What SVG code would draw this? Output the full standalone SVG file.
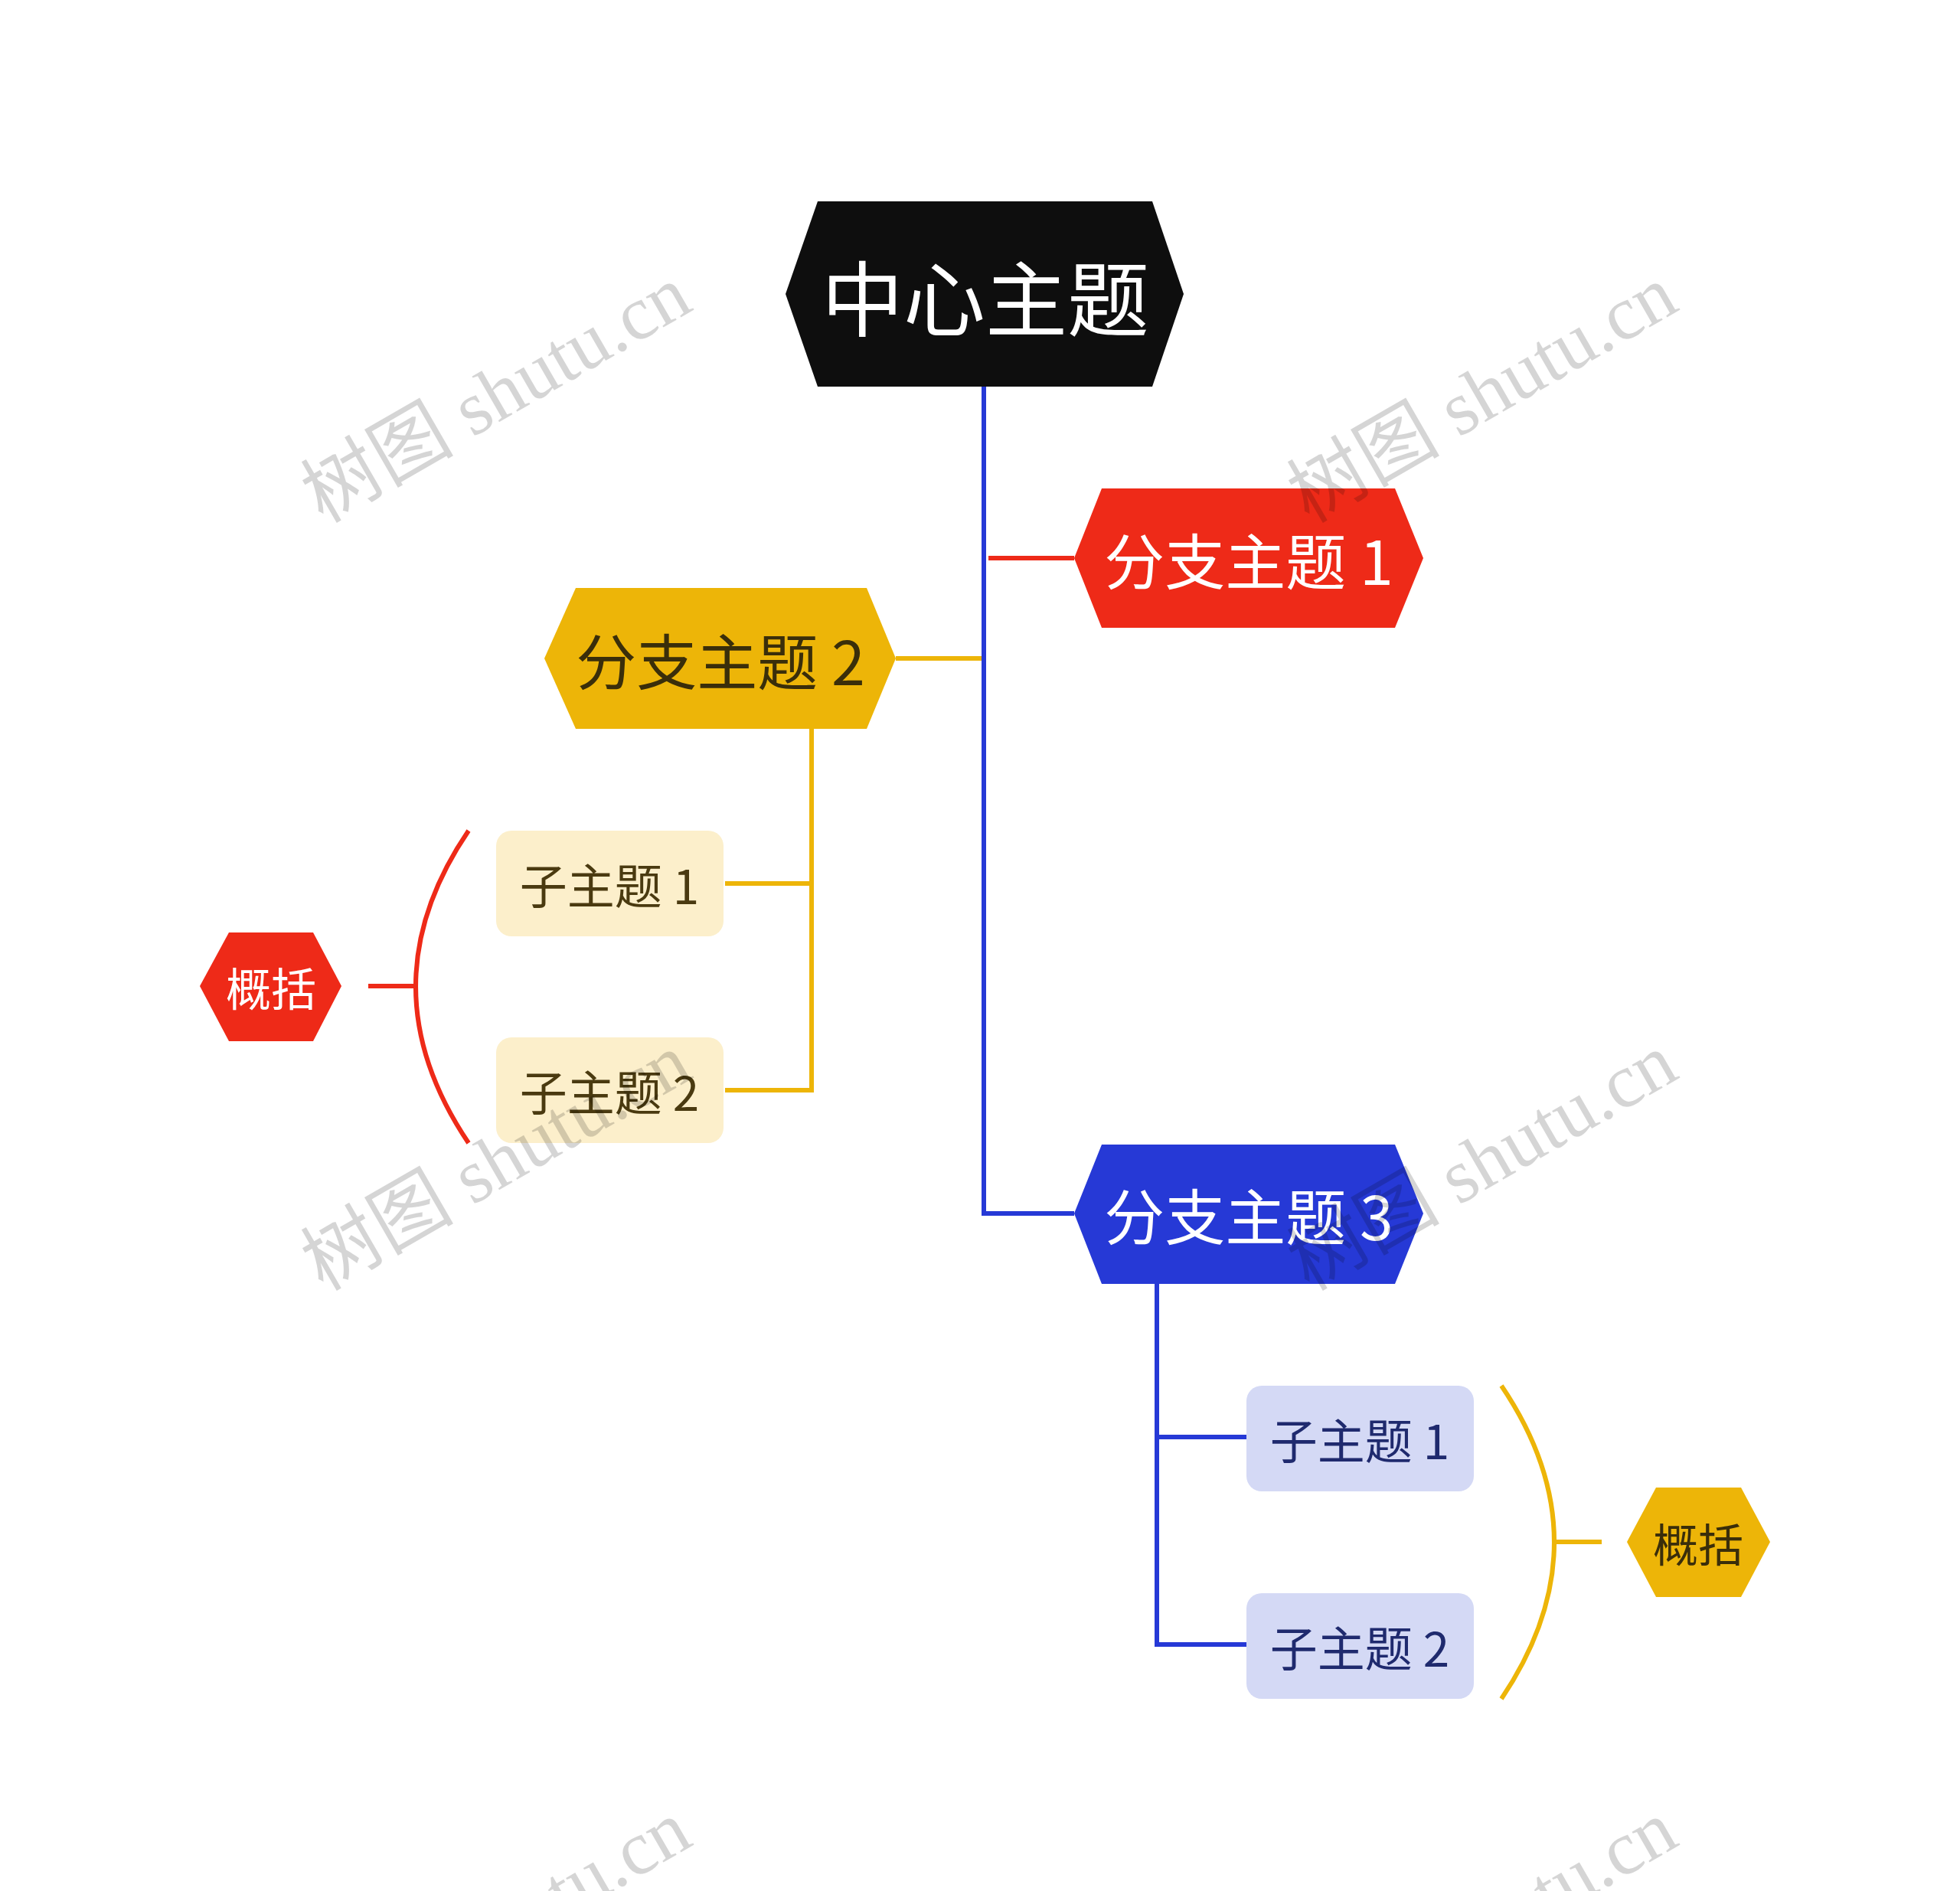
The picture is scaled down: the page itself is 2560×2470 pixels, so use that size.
<svg xmlns="http://www.w3.org/2000/svg" width="2560" height="2470" viewBox="0 0 2560 2470">
<style>
text{font-family:"Noto Sans CJK SC","Noto Sans",sans-serif;text-anchor:middle;dominant-baseline:central}
.wm{font-family:"Liberation Serif","Noto Sans CJK SC",serif;font-size:100px;fill:#000;opacity:0.16}
.ln{fill:none;stroke-width:6}
</style>
<rect width="2560" height="2470" fill="#fff"/>
<g id="connectors">
<path class="ln" stroke="#2639D6" d="M1285,505 V1585 H1403"/>
<path class="ln" stroke="#EE2A18" d="M1291,729 H1403"/>
<path class="ln" stroke="#EDB508" d="M1170,860 H1282"/>
<path class="ln" stroke="#EDB508" d="M1060,952 V1424 H947 M1060,1154 H947"/>
<path class="ln" stroke="#2639D6" d="M1511,1677 V2148 H1628 M1511,1877 H1628"/>
<path class="ln" stroke="#EE2A18" d="M612,1085 Q474,1288 612,1493 M481,1288 H543"/>
<path class="ln" stroke="#EDB508" d="M1961,1810 Q2099,2014 1961,2219 M2030,2014 H2092"/>
</g>
<g id="center">
<polygon points="1026,384 1068,263 1505,263 1546,384 1505,505 1068,505" fill="#0E0E0E"/>
<text x="1287" y="384" font-size="107" fill="#fff">中心主题</text>
</g>
<g id="branch1">
<polygon points="1403,729 1439,638 1822,638 1859,729 1822,820 1439,820" fill="#EE2A18"/>
<text x="1631" y="729" font-size="79" fill="#fff">分支主题 1</text>
</g>
<g id="branch2">
<polygon points="711,860 752,768 1132,768 1170,860 1132,952 752,952" fill="#EDB508"/>
<text x="941" y="860" font-size="79" fill="#3a2e0a">分支主题 2</text>
</g>
<g id="branch3">
<polygon points="1403,1585 1439,1495 1822,1495 1859,1585 1822,1677 1439,1677" fill="#2639D6"/>
<text x="1631" y="1585" font-size="79" fill="#fff">分支主题 3</text>
</g>
<g id="sub2-1"><rect x="648" y="1085" width="297" height="138" rx="20" fill="#FCEFCB"/><text x="796" y="1154" font-size="62" fill="#4a3a10">子主题 1</text></g>
<g id="sub2-2"><rect x="648" y="1355" width="297" height="138" rx="20" fill="#FCEFCB"/><text x="796" y="1424" font-size="62" fill="#4a3a10">子主题 2</text></g>
<g id="sub3-1"><rect x="1628" y="1810" width="297" height="138" rx="20" fill="#D4D9F5"/><text x="1776" y="1879" font-size="62" fill="#1f2a6e">子主题 1</text></g>
<g id="sub3-2"><rect x="1628" y="2081" width="297" height="138" rx="20" fill="#D4D9F5"/><text x="1776" y="2150" font-size="62" fill="#1f2a6e">子主题 2</text></g>
<g id="summary1">
<polygon points="261,1288 299,1218 409,1218 446,1288 409,1360 299,1360" fill="#EE2A18"/>
<text x="354" y="1288" font-size="59" fill="#fff">概括</text>
</g>
<g id="summary2">
<polygon points="2125,2014 2163,1943 2274,1943 2312,2014 2274,2086 2163,2086" fill="#EDB508"/>
<text x="2218" y="2014" font-size="59" fill="#3a2e0a">概括</text>
</g>
<g id="watermarks">
<text class="wm" transform="translate(648,515) rotate(-30)">树图 shutu.cn</text>
<text class="wm" transform="translate(1936,515) rotate(-30)">树图 shutu.cn</text>
<text class="wm" transform="translate(648,1518) rotate(-30)">树图 shutu.cn</text>
<text class="wm" transform="translate(1936,1518) rotate(-30)">树图 shutu.cn</text>
<text class="wm" transform="translate(648,2520) rotate(-30)">树图 shutu.cn</text>
<text class="wm" transform="translate(1936,2520) rotate(-30)">树图 shutu.cn</text>
</g>
</svg>
